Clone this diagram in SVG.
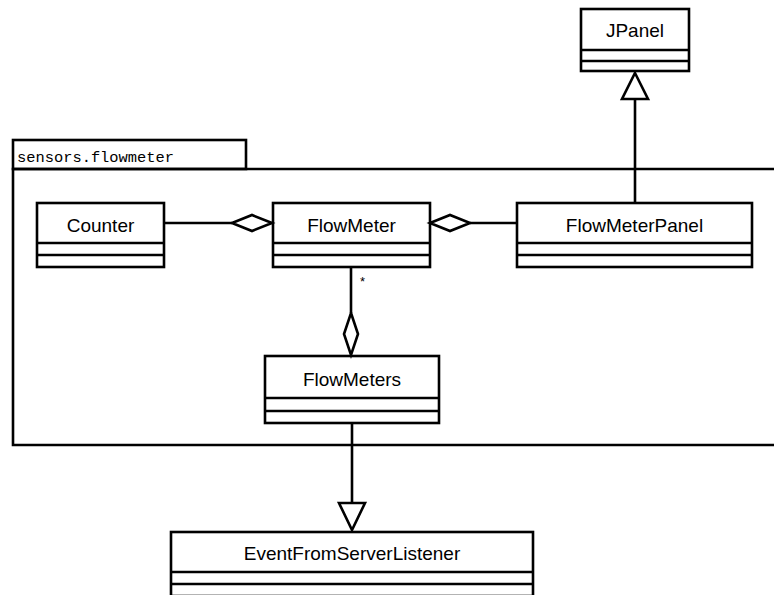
<svg xmlns="http://www.w3.org/2000/svg" width="774" height="595" viewBox="0 0 774 595">
  <style>
    .box { fill: #fff; stroke: #000; stroke-width: 2.6; }
    .sep { stroke: #000; stroke-width: 2.6; fill: none; }
    .name { font-family: "Liberation Sans", Arial, sans-serif; font-size: 19px; fill: #000; text-anchor: middle; }
    .pkg { fill: none; stroke: #000; stroke-width: 2.6; }
    .pkglabel { font-family: "Liberation Mono", "Courier New", monospace; font-size: 15.4px; fill: #000; }
    .edge { stroke: #000; stroke-width: 2.6; fill: none; }
    .head { fill: #fff; stroke: #000; stroke-width: 2.6; stroke-linejoin: miter; }
    .mult { font-family: "Liberation Sans", Arial, sans-serif; font-size: 13px; fill: #000; }
  </style>

  <rect width="774" height="595" fill="#fff"/>

  <!-- package sensors.flowmeter (body runs past the right edge) -->
  <g id="pkg-sensors-flowmeter">
    <rect class="pkg" x="13" y="140" width="233" height="29"/>
    <path class="pkg" d="M 776 169 H 13 V 445 H 776"/>
    <text class="pkglabel" x="17" y="162">sensors.flowmeter</text>
  </g>

  <!-- classes -->
  <g id="JPanel">
    <rect class="box" x="581" y="9" width="108" height="62"/>
    <path class="sep" d="M 581 50 H 689 M 581 61 H 689"/>
    <text class="name" x="635" y="37">JPanel</text>
  </g>

  <g id="Counter">
    <rect class="box" x="37" y="203" width="127" height="64"/>
    <path class="sep" d="M 37 243 H 164 M 37 255 H 164"/>
    <text class="name" x="100.5" y="232">Counter</text>
  </g>

  <g id="FlowMeter">
    <rect class="box" x="273" y="203" width="157" height="64"/>
    <path class="sep" d="M 273 243 H 430 M 273 255 H 430"/>
    <text class="name" x="351.5" y="232">FlowMeter</text>
  </g>

  <g id="FlowMeterPanel">
    <rect class="box" x="517" y="203" width="235" height="64"/>
    <path class="sep" d="M 517 243 H 752 M 517 255 H 752"/>
    <text class="name" x="634.5" y="232">FlowMeterPanel</text>
  </g>

  <g id="FlowMeters">
    <rect class="box" x="265" y="356" width="174" height="67"/>
    <path class="sep" d="M 265 398 H 439 M 265 411 H 439"/>
    <text class="name" x="352" y="386">FlowMeters</text>
  </g>

  <g id="EventFromServerListener">
    <rect class="box" x="171" y="532" width="362" height="64"/>
    <path class="sep" d="M 171 572 H 533 M 171 584 H 533"/>
    <text class="name" x="352" y="560">EventFromServerListener</text>
  </g>

  <!-- connectors -->
  <g id="connectors">
    <!-- Counter aggregated by FlowMeter -->
    <line class="edge" x1="164" y1="223" x2="232" y2="223"/>
    <polygon class="head" points="272,223 252,215 232,223 252,231"/>

    <!-- FlowMeter aggregated by FlowMeterPanel -->
    <line class="edge" x1="470" y1="223" x2="517" y2="223"/>
    <polygon class="head" points="430,223 450,215 470,223 450,231"/>

    <!-- FlowMeter aggregated by FlowMeters, multiplicity * -->
    <line class="edge" x1="351" y1="267" x2="351" y2="313"/>
    <polygon class="head" points="351,313 358,334 351,355 344,334"/>
    <text class="mult" x="360" y="286">*</text>

    <!-- FlowMeterPanel extends JPanel -->
    <line class="edge" x1="635" y1="203" x2="635" y2="99"/>
    <polygon class="head" points="635,73 648,99 622,99"/>

    <!-- FlowMeters implements EventFromServerListener -->
    <line class="edge" x1="352" y1="423" x2="352" y2="503"/>
    <polygon class="head" points="339,503 365,503 352,530"/>
  </g>
</svg>
